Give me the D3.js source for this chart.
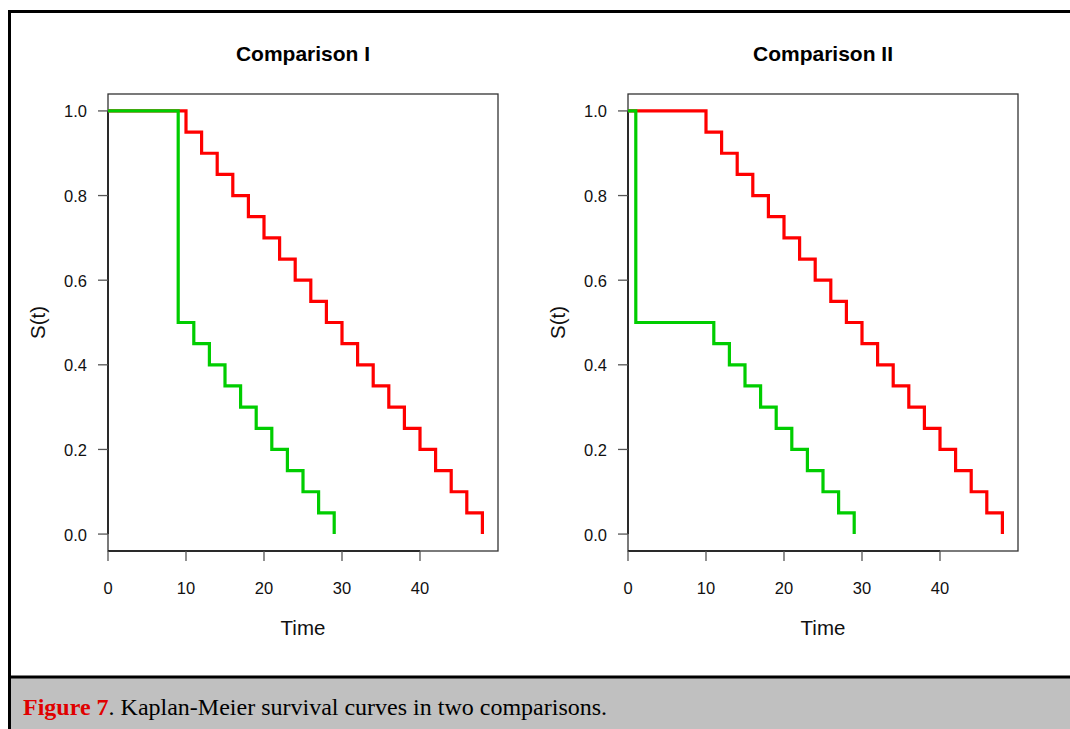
<!DOCTYPE html>
<html><head><meta charset="utf-8">
<script src="https://cdn.jsdelivr.net/npm/d3@7"></script>
<style>html,body{margin:0;padding:0;background:#fff;overflow:hidden}svg{display:block}</style>
</head><body>
<svg id="c" width="1070" height="729"></svg>
<script>
// ---- data ----
const titles = ["Comparison I", "Comparison II"];
const xTicks = [0, 10, 20, 30, 40];
const yTicks = [0.0, 0.2, 0.4, 0.6, 0.8, 1.0];
const redTimesI = [0, 10, 12, 14, 16, 18, 20, 22, 24, 26, 28, 30, 32, 34, 36, 38, 40, 42, 44, 46, 48];
const redSurvI  = [1.0, 0.95, 0.90, 0.85, 0.80, 0.75, 0.70, 0.65, 0.60, 0.55, 0.50, 0.45, 0.40, 0.35, 0.30, 0.25, 0.20, 0.15, 0.10, 0.05, 0.0];
const greenTimesI = [0, 9, 11, 13, 15, 17, 19, 21, 23, 25, 27, 29];
const greenSurvI  = [1.0, 0.50, 0.45, 0.40, 0.35, 0.30, 0.25, 0.20, 0.15, 0.10, 0.05, 0.0];
const redTimesII = [0, 10, 12, 14, 16, 18, 20, 22, 24, 26, 28, 30, 32, 34, 36, 38, 40, 42, 44, 46, 48];
const redSurvII  = [1.0, 0.95, 0.90, 0.85, 0.80, 0.75, 0.70, 0.65, 0.60, 0.55, 0.50, 0.45, 0.40, 0.35, 0.30, 0.25, 0.20, 0.15, 0.10, 0.05, 0.0];
const greenTimesII = [0, 1, 11, 13, 15, 17, 19, 21, 23, 25, 27, 29];
const greenSurvII  = [1.0, 0.50, 0.45, 0.40, 0.35, 0.30, 0.25, 0.20, 0.15, 0.10, 0.05, 0.0];
const xLabel = "Time", yLabel = "S(t)";
const captionBold = "Figure 7", captionRest = ". Kaplan-Meier survival curves in two comparisons.";

const svg = d3.select("#c");
const sans = "'Liberation Sans', Arial, Helvetica, sans-serif";
const serif = "'Liberation Serif', 'Times New Roman', Times, serif";

// frame
svg.append("rect").attr("x", 9).attr("y", 676.5).attr("width", 1070).attr("height", 60).attr("fill", "#c0c0c0");
svg.append("path").attr("d", "M9.5,740 L9.5,11.5 L1075,11.5").attr("fill", "none").attr("stroke", "#000").attr("stroke-width", 3);
svg.append("line").attr("x1", 9).attr("x2", 1075).attr("y1", 677).attr("y2", 677).attr("stroke", "#000").attr("stroke-width", 3);

const cap = svg.append("text").attr("x", 23).attr("y", 715).attr("font-family", serif).attr("font-size", 24);
cap.append("tspan").attr("fill", "#e00000").attr("font-weight", "bold").text(captionBold);
cap.append("tspan").attr("fill", "#000").text(captionRest);

const panels = [
  {left: 108, title: titles[0], red: [redTimesI, redSurvI], green: [greenTimesI, greenSurvI]},
  {left: 628, title: titles[1], red: [redTimesII, redSurvII], green: [greenTimesII, greenSurvII]}
];
const plotTop = 94, plotBottom = 551, plotWidth = 390;

panels.forEach(p => {
  const x = d3.scaleLinear().domain([0, 50]).range([p.left, p.left + plotWidth]);
  const y = d3.scaleLinear().domain([-0.04, 1.04]).range([plotBottom, plotTop]);
  const g = svg.append("g");
  // box
  g.append("rect").attr("x", x(0)).attr("y", plotTop).attr("width", x(50) - x(0)).attr("height", plotBottom - plotTop)
    .attr("fill", "none").attr("stroke", "#333").attr("stroke-width", 1.3);
  // x axis
  g.append("line").attr("x1", x(xTicks[0])).attr("x2", x(xTicks[xTicks.length - 1])).attr("y1", plotBottom).attr("y2", plotBottom)
    .attr("stroke", "#111").attr("stroke-width", 1.5);
  xTicks.forEach(t => {
    g.append("line").attr("x1", x(t)).attr("x2", x(t)).attr("y1", plotBottom).attr("y2", plotBottom + 10).attr("stroke", "#555").attr("stroke-width", 1.3);
    g.append("text").attr("x", x(t)).attr("y", 593.5).attr("text-anchor", "middle")
      .attr("font-family", sans).attr("font-size", 16.5).attr("fill", "#111").text(t);
  });
  // y axis
  g.append("line").attr("x1", x(0)).attr("x2", x(0)).attr("y1", y(0)).attr("y2", y(1))
    .attr("stroke", "#111").attr("stroke-width", 1.5);
  yTicks.forEach(t => {
    g.append("line").attr("x1", x(0) - 10).attr("x2", x(0)).attr("y1", y(t)).attr("y2", y(t)).attr("stroke", "#555").attr("stroke-width", 1.3);
    g.append("text").attr("x", x(0) - 21).attr("y", y(t) + 6.5).attr("text-anchor", "end")
      .attr("font-family", sans).attr("font-size", 16.5).attr("fill", "#111").text(d3.format(".1f")(t));
  });
  // labels
  g.append("text").attr("x", x(25)).attr("y", 635).attr("text-anchor", "middle")
    .attr("font-family", sans).attr("font-size", 20.5).attr("fill", "#111").text(xLabel);
  g.append("text").attr("transform", `translate(${p.left - 63},${(plotTop + plotBottom) / 2}) rotate(-90)`).attr("text-anchor", "middle")
    .attr("font-family", sans).attr("font-size", 20.5).attr("fill", "#111").text(yLabel);
  g.append("text").attr("x", x(25)).attr("y", 60.5).attr("text-anchor", "middle")
    .attr("font-family", sans).attr("font-weight", "bold").attr("font-size", 21).attr("fill", "#000").text(p.title);
  // curves
  const line = d3.line().x(d => x(d[0])).y(d => y(d[1])).curve(d3.curveStepAfter);
  const redData = p.red[0].map((t, i) => [t, p.red[1][i]]);
  const greenData = p.green[0].map((t, i) => [t, p.green[1][i]]);
  g.append("path").attr("d", line(redData)).attr("fill", "none").attr("stroke", "#ff0000").attr("stroke-width", 3.2);
  g.append("path").attr("d", line(greenData)).attr("fill", "none").attr("stroke", "#00cd00").attr("stroke-width", 3.2);
});
</script>
</body></html>
